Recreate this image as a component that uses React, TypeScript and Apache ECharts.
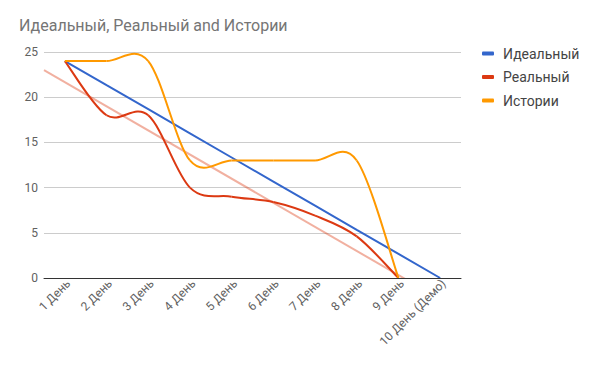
import React, { useEffect, useRef } from "react";
import * as echarts from "echarts";

const categories = ["1 День", "2 День", "3 День", "4 День", "5 День", "6 День", "7 День", "8 День", "9 День", "10 День (Демо)"];
const idealValues = [24, 21.33, 18.67, 16, 13.33, 10.67, 8, 5.33, 2.67, 0];
const realValues: (number | null)[] = [24, 18, 18, 10, 9, 8.4, 6.9, 4.6, 0, null];
const storyValues: (number | null)[] = [24, 24, 24, 13, 13, 13, 13, 13, 0, null];
const seriesNames = ["Идеальный", "Реальный", "Истории"];
const titleText = "Идеальный, Реальный and Истории";

// linear regression trendline of the real series (as Google Charts trendline)
function trend(values: (number | null)[]) {
  const pts: [number, number][] = [];
  values.forEach((v, i) => { if (v !== null) pts.push([i, v]); });
  const n = pts.length;
  const mx = pts.reduce((s, p) => s + p[0], 0) / n;
  const my = pts.reduce((s, p) => s + p[1], 0) / n;
  let num = 0, den = 0;
  pts.forEach(([x, y]) => { num += (x - mx) * (y - my); den += (x - mx) * (x - mx); });
  const slope = num / den;
  const b = my - slope * mx;
  const x0 = -0.5, x1 = categories.length - 0.5;
  return [[x0, b + slope * x0], [x1, b + slope * x1]];
}

// Catmull-Rom smoothed line (Google "function" curve) drawn via custom series
function curveSeries(name: string, values: (number | null)[], color: string, z: number) {
  const pts: [number, number][] = [];
  values.forEach((v, i) => { if (v !== null) pts.push([i, v]); });
  return {
    name,
    type: "custom",
    z,
    itemStyle: { color },
    encode: { x: 0, y: 1 },
    data: pts,
    renderItem: (params: any, api: any) => {
      const i = params.dataIndex;
      if (i >= pts.length - 1) return { type: "group", children: [] };
      const P = (k: number) => api.coord(pts[Math.max(0, Math.min(pts.length - 1, k))]);
      const p0 = P(i - 1), p1 = P(i), p2 = P(i + 1), p3 = P(i + 2);
      return {
        type: "bezierCurve",
        shape: {
          x1: p1[0], y1: p1[1],
          x2: p2[0], y2: p2[1],
          cpx1: p1[0] + (p2[0] - p0[0]) / 6,
          cpy1: p1[1] + (p2[1] - p0[1]) / 6,
          cpx2: p2[0] - (p3[0] - p1[0]) / 6,
          cpy2: p2[1] - (p3[1] - p1[1]) / 6,
        },
        style: { stroke: color, lineWidth: 2, fill: "none" },
      };
    },
  };
}

export default function App() {
  const ref = useRef<HTMLDivElement>(null);
  useEffect(() => {
    const chart = echarts.init(ref.current!, undefined, { renderer: "svg" });
    const font = "Roboto, Arial, sans-serif";
    chart.setOption({
      animation: false,
      backgroundColor: "#ffffff",
      title: {
        text: titleText,
        left: 14,
        top: 12,
        textStyle: { fontFamily: font, fontSize: 16, fontWeight: "normal", color: "#757575" },
      },
      legend: {
        orient: "vertical",
        left: 477,
        top: 41,
        itemGap: 8.5,
        itemWidth: 12,
        itemHeight: 4,
        icon: "roundRect",
        data: seriesNames,
        textStyle: { fontFamily: font, fontSize: 14, color: "#444444", lineHeight: 15, padding: [0, 0, 0, 4] },
      },
      grid: { left: 44, right: 135, top: 52, bottom: 90, containLabel: false },
      xAxis: [
        {
          type: "category",
          data: categories,
          boundaryGap: true,
          axisLine: { show: true, lineStyle: { color: "#333333", width: 1 } },
          axisTick: { show: false },
          axisLabel: { rotate: 45, fontFamily: font, fontSize: 12, color: "#616161", margin: 7, interval: 0, padding: [0, -5, 0, 0] },
          splitLine: { show: false },
          z: 10,
        },
        {
          type: "value",
          min: -0.5,
          max: categories.length - 0.5,
          show: false,
          splitLine: { show: false },
        },
      ],
      yAxis: {
        type: "value",
        min: 0,
        max: 25,
        interval: 5,
        axisLine: { show: false },
        axisTick: { show: false },
        axisLabel: { fontFamily: font, fontSize: 12, color: "#616161", margin: 6 },
        splitLine: { lineStyle: { color: "#cccccc", width: 1 } },
      },
      series: [
        {
          name: "trend",
          type: "line",
          xAxisIndex: 1,
          data: trend(realValues),
          showSymbol: false,
          clip: true,
          lineStyle: { color: "#dc3912", width: 2, opacity: 0.4 },
          silent: true,
          z: 1,
        },
        {
          name: seriesNames[0],
          type: "line",
          data: idealValues,
          showSymbol: false,
          color: "#3366cc",
          lineStyle: { width: 2 },
          z: 2,
        },
        curveSeries(seriesNames[1], realValues, "#dc3912", 3),
        curveSeries(seriesNames[2], storyValues, "#ff9900", 4),
      ],
    });
    return () => chart.dispose();
  }, []);
  return <div ref={ref} style={{ width: 596, height: 368, margin: -8 }} />;
}
